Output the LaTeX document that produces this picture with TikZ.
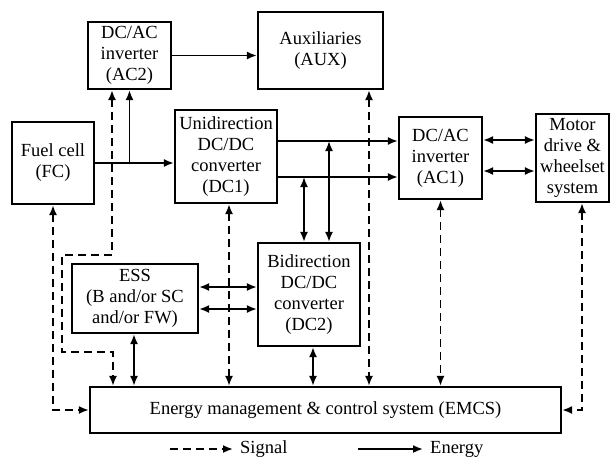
\documentclass[tikz,border=0pt]{standalone}
\usepackage{fontspec}
\setmainfont{Liberation Serif}
\usepackage{tikz}
\usetikzlibrary{positioning, arrows.meta, calc}

\begin{document}
\begin{tikzpicture}[
        x=1pt, y=-1pt,
        font=\fontsize{18.5}{21}\selectfont,
        block/.style  = {draw, line width=2.2pt, align=center, inner sep=0pt},
        energy/.style = {-{Latex[length=10pt, width=8pt]}, line width=1.8pt},
        bienergy/.style = {{Latex[length=10pt, width=8pt]}-{Latex[length=10pt, width=8pt]}, line width=1.8pt},
        signal/.style = {-{Latex[length=10pt, width=8pt]}, line width=1.8pt, dash pattern=on 8pt off 5pt},
        bisignal/.style = {{Latex[length=10pt, width=8pt]}-{Latex[length=10pt, width=8pt]}, line width=1.8pt, dash pattern=on 8pt off 5pt},
    ]
        \useasboundingbox (0,0) rectangle (612,459);

        % blocks
        \node[block, minimum width=83pt, minimum height=67pt] (ac2) at (129.5,55.5) {DC/AC\\inverter\\(AC2)};
        \node[block, minimum width=125pt, minimum height=77pt] (aux) at (320.5,50.5) {Auxiliaries\\(AUX)};
        \node[block, minimum width=82pt, minimum height=82pt] (fc) at (53,163) {Fuel cell\\(FC)};
        \node[block, minimum width=102pt, minimum height=93pt] (dc1) at (226,156.5) {Unidirection\\DC/DC\\converter\\(DC1)};
        \node[block, minimum width=83pt, minimum height=82pt] (ac1) at (440.5,158) {DC/AC\\inverter\\(AC1)};
        \node[block, minimum width=73pt, minimum height=88pt] (motor) at (572.5,158) {Motor\\drive \&\\wheelset\\system};
        \node[block, minimum width=126pt, minimum height=69pt] (ess) at (135,298.5) {ESS\\(B and/or SC\\and/or FW)};
        \node[block, minimum width=102pt, minimum height=103pt] (dc2) at (309,294.5) {Bidirection\\DC/DC\\converter\\(DC2)};
        \node[block, minimum width=471pt, minimum height=46pt] (emcs) at (325.5,410) {Energy management \& control system (EMCS)};

        % energy flow
        \draw[energy] (fc.east) -- (fc.east -| dc1.west);
        \draw[energy] (ac2.south |- fc.east) -- (ac2.south);
        \draw[energy] (ac2.east) -- (ac2.east -| aux.west);
        \draw[energy] (dc1.east |- 0,141) -- (ac1.west |- 0,141);
        \draw[energy] (dc1.east |- 0,177) -- (ac1.west |- 0,177);
        \draw[bienergy] (304,177) -- (dc2.north -| 304,0);
        \draw[bienergy] (329,141) -- (dc2.north -| 329,0);
        \draw[bienergy] (ac1.east |- 0,140) -- (motor.west |- 0,140);
        \draw[bienergy] (ac1.east |- 0,171) -- (motor.west |- 0,171);
        \draw[bienergy] (ess.east |- 0,287) -- (dc2.west |- 0,287);
        \draw[bienergy] (ess.east |- 0,309) -- (dc2.west |- 0,309);
        \draw[bienergy] (ess.south -| 134,0) -- (emcs.north -| 134,0);
        \draw[bienergy] (dc2.south -| 313,0) -- (emcs.north -| 313,0);

        % signals
        \draw[bisignal] (fc.south) -- (fc.south |- emcs.west) -- (emcs.west);
        \draw[bisignal] (ac2.south -| 112,0) -- (112,255) -- (62,255) -- (62,352) -- (113,352) -- (emcs.north -| 113,0);
        \draw[bisignal] (dc1.south -| 229,0) -- (emcs.north -| 229,0);
        \draw[bisignal] (aux.south -| 369,0) -- (emcs.north -| 369,0);
        \draw[bisignal] (ac1.south) -- (emcs.north -| ac1.south);
        \draw[bisignal] (motor.south -| 582,0) -- (582,410) -- (emcs.east);

        % legend
        \node[anchor=west, inner sep=0pt] (sig) at (240,449) {Signal};
        \node[anchor=west, inner sep=0pt] (nrg) at (430,449) {Energy};
        \draw[signal] ($(sig.west)+(-70,0)$) -- ($(sig.west)+(-7,0)$);
        \draw[energy] ($(nrg.west)+(-72,0)$) -- ($(nrg.west)+(-7,0)$);
    \end{tikzpicture}
\end{document}
